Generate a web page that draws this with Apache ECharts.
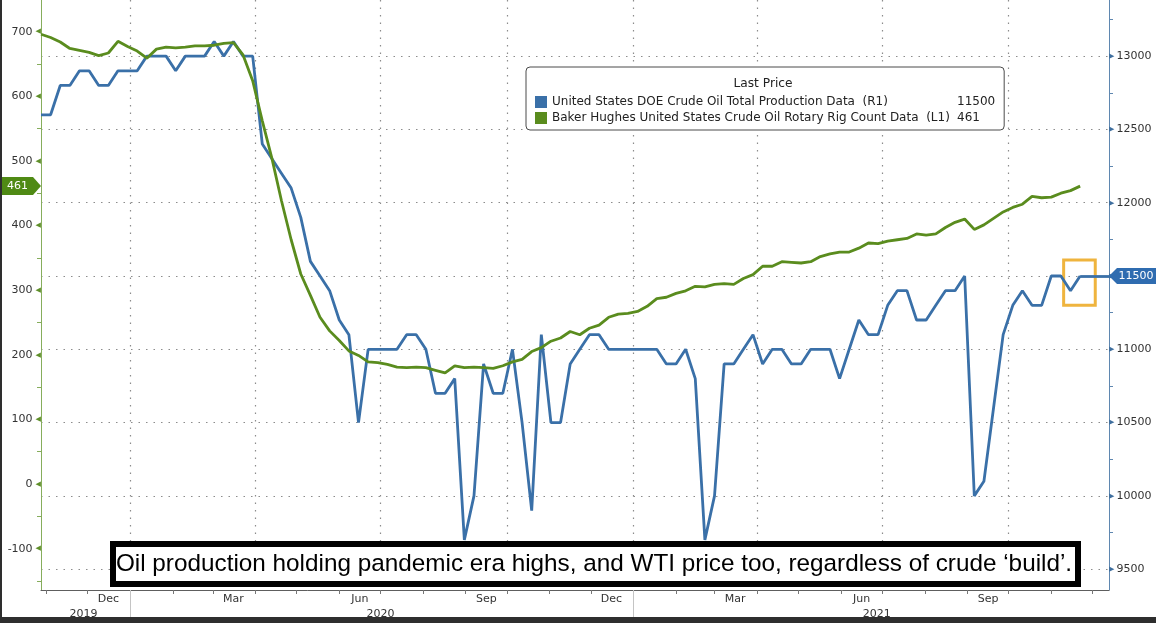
<!DOCTYPE html>
<html>
<head>
<meta charset="utf-8">
<title>US crude oil production vs rig count</title>
<script src="https://cdn.jsdelivr.net/npm/echarts@6/dist/echarts.min.js"></script>
<style>
    html, body { margin: 0; padding: 0; background: #fff; }
    #wrap { position: relative; width: 1156px; height: 623px; overflow: hidden; }
    #main { width: 1156px; height: 623px; }
    .edge { position: absolute; background: #2e2e2e; }
</style>
</head>
<body>
<div id="wrap">
    <div id="main"></div>
    <div class="edge" style="left:0;top:0;width:2px;height:623px"></div>
    <div class="edge" style="left:0;bottom:0;width:1156px;height:6px"></div>
</div>
<script>
// weekly observations
const weeks = [
    '2019-10-28', '2019-11-04', '2019-11-11', '2019-11-18', '2019-11-25', '2019-12-02', '2019-12-09', '2019-12-16', '2019-12-23', '2019-12-30',
    '2020-01-06', '2020-01-13', '2020-01-20', '2020-01-27', '2020-02-03', '2020-02-10', '2020-02-17', '2020-02-24', '2020-03-02', '2020-03-09',
    '2020-03-16', '2020-03-23', '2020-03-30', '2020-04-06', '2020-04-13', '2020-04-20', '2020-04-27', '2020-05-04', '2020-05-11', '2020-05-18',
    '2020-05-25', '2020-06-01', '2020-06-08', '2020-06-15', '2020-06-22', '2020-06-29', '2020-07-06', '2020-07-13', '2020-07-20', '2020-07-27',
    '2020-08-03', '2020-08-10', '2020-08-17', '2020-08-24', '2020-08-31', '2020-09-07', '2020-09-14', '2020-09-21', '2020-09-28', '2020-10-05',
    '2020-10-12', '2020-10-19', '2020-10-26', '2020-11-02', '2020-11-09', '2020-11-16', '2020-11-23', '2020-11-30', '2020-12-07', '2020-12-14',
    '2020-12-21', '2020-12-28', '2021-01-04', '2021-01-11', '2021-01-18', '2021-01-25', '2021-02-01', '2021-02-08', '2021-02-15', '2021-02-22',
    '2021-03-01', '2021-03-08', '2021-03-15', '2021-03-22', '2021-03-29', '2021-04-05', '2021-04-12', '2021-04-19', '2021-04-26', '2021-05-03',
    '2021-05-10', '2021-05-17', '2021-05-24', '2021-05-31', '2021-06-07', '2021-06-14', '2021-06-21', '2021-06-28', '2021-07-05', '2021-07-12',
    '2021-07-19', '2021-07-26', '2021-08-02', '2021-08-09', '2021-08-16', '2021-08-23', '2021-08-30', '2021-09-06', '2021-09-13', '2021-09-20',
    '2021-09-27', '2021-10-04', '2021-10-11', '2021-10-18', '2021-10-25', '2021-11-01', '2021-11-08', '2021-11-15', '2021-11-22'
];

// DOE crude production, thousand b/d (right axis)
const production = [
    12600, 12600, 12800, 12800, 12900, 12900, 12800, 12800, 12900, 12900,
    12900, 13000, 13000, 13000, 12900, 13000, 13000, 13000, 13100, 13000,
    13100, 13000, 13000, 12400, 12300, 12200, 12100, 11900, 11600, 11500,
    11400, 11200, 11100, 10500, 11000, 11000, 11000, 11000, 11100, 11100,
    11000, 10700, 10700, 10800, 9700, 10000, 10900, 10700, 10700, 11000,
    10500, 9900, 11100, 10500, 10500, 10900, 11000, 11100, 11100, 11000,
    11000, 11000, 11000, 11000, 11000, 10900, 10900, 11000, 10800, 9700,
    10000, 10900, 10900, 11000, 11100, 10900, 11000, 11000, 10900, 10900,
    11000, 11000, 11000, 10800, 11000, 11200, 11100, 11100, 11300, 11400,
    11400, 11200, 11200, 11300, 11400, 11400, 11500, 10000, 10100, 10600,
    11100, 11300, 11400, 11300, 11300, 11500, 11500, 11400, 11500
];

// Baker Hughes oil rig count (left axis)
const rigCount = [
    696, 691, 684, 674, 671, 668, 663, 667, 685, 677,
    670, 659, 673, 676, 675, 676, 678, 678, 679, 682,
    683, 664, 624, 562, 504, 438, 378, 325, 292, 258,
    237, 222, 206, 199, 189, 188, 185, 181, 180, 181,
    180, 176, 172, 183, 180, 181, 180, 179, 183, 189,
    193, 205, 211, 221, 226, 236, 231, 241, 246, 258,
    263, 264, 267, 275, 287, 289, 295, 299, 306, 305,
    309, 310, 309, 318, 324, 337, 337, 344, 343, 342,
    344, 352, 356, 359, 359, 365, 373, 372, 376, 378,
    380, 387, 385, 387, 397, 405, 410, 394, 401, 411,
    421, 428, 433, 445, 443, 444, 450, 454, 461
];

const prodName = 'United States DOE Crude Oil Total Production Data  (R1)';
const rigName = 'Baker Hughes United States Crude Oil Rotary Rig Count Data  (L1)';

const axisStart = '2019-10-28';
const axisEnd = '2021-12-13';
const monthTicks = [
    '2019-11-01', '2019-12-01', '2020-01-01', '2020-02-01', '2020-03-01', '2020-04-01', '2020-05-01', '2020-06-01',
    '2020-07-01', '2020-08-01', '2020-09-01', '2020-10-01', '2020-11-01', '2020-12-01', '2021-01-01', '2021-02-01',
    '2021-03-01', '2021-04-01', '2021-05-01', '2021-06-01', '2021-07-01', '2021-08-01', '2021-09-01', '2021-10-01',
    '2021-11-01', '2021-12-01'
];
const quarterLines = ['2020-01-01', '2020-04-01', '2020-07-01', '2020-10-01', '2021-01-01', '2021-04-01', '2021-07-01', '2021-10-01'];
const monthLabels = ['2019-12-16', '2020-03-16', '2020-06-16', '2020-09-16', '2020-12-16', '2021-03-16', '2021-06-16', '2021-09-16'];
const yearBreaks = ['2020-01-01', '2021-01-01'];
const yearLabels = ['2019-11-28', '2020-07-01', '2021-06-27'];
const monthNames = ['Jan', 'Feb', 'Mar', 'Apr', 'May', 'Jun', 'Jul', 'Aug', 'Sep', 'Oct', 'Nov', 'Dec'];

const leftMin = -164, leftMax = 749;
const leftLabels = [-100, 0, 100, 200, 300, 400, 500, 600, 700];
const leftMinor = [-150, -50, 50, 150, 250, 350, 450, 550, 650];
const rightMin = 9358, rightMax = 13383;
const rightLabels = [9500, 10000, 10500, 11000, 11500, 12000, 12500, 13000];
const rightMinor = [9750, 10250, 10750, 11250, 11750, 12250, 12750, 13250];

// yellow box around the latest dip
const highlightBox = [['2021-11-10', 11610], ['2021-12-03', 11300]];

const caption = 'Oil production holding pandemic era highs, and WTI price too, regardless of crude \u2018build\u2019.';

const BLUE = '#3a70a8';
const BLUE_TAG = '#2f6cb0';
const GREEN = '#5a8c1e';
const GREEN_TAG = '#4f8a14';
const FONT = 'DejaVu Sans';

document.addEventListener('DOMContentLoaded', init);

function init() {
    drawChart();
}

// dates go on a numeric axis as UTC milliseconds
function ts(day) {
    return Date.parse(day + 'T00:00:00Z');
}

function drawChart() {
    const last = weeks.length - 1;
    const lastValues = {};
    lastValues[prodName] = production[last];
    lastValues[rigName] = rigCount[last];

    const xMin = ts(axisStart);
    const xMax = ts(axisEnd);
    const dotted = { color: '#8c8c8c', width: 1.2, type: [1.5, 6] };

    let myChart = echarts.init(document.getElementById('main'));

    let option = {
        animation: false,
        backgroundColor: '#fff',
        grid: { left: 41, right: 47, top: 0, bottom: 33, containLabel: false },
        legend: {
            left: 526,
            top: 67,
            orient: 'vertical',
            selectedMode: false,
            icon: 'rect',
            itemWidth: 12,
            itemHeight: 12,
            itemGap: 4,
            padding: [29, 9, 6, 9],
            backgroundColor: '#fff',
            borderColor: '#4a4a4a',
            borderWidth: 1,
            borderRadius: 4,
            data: [prodName, rigName],
            formatter: name => `{n|${name}}{v|${lastValues[name]}}`,
            textStyle: {
                fontFamily: FONT,
                fontSize: 12,
                color: '#222',
                rich: {
                    n: { width: 405, fontFamily: FONT, fontSize: 12, color: '#222' },
                    v: { fontFamily: FONT, fontSize: 12, color: '#222' }
                }
            }
        },
        graphic: [
            {
                type: 'text',
                x: 763,
                y: 84,
                z: 50,
                style: {
                    text: 'Last Price',
                    fontFamily: FONT,
                    fontSize: 12.2,
                    fill: '#222',
                    align: 'center',
                    verticalAlign: 'middle'
                }
            },
            {
                type: 'rect',
                shape: { x: 113, y: 544, width: 965, height: 40 },
                style: { fill: '#fff', stroke: '#000', lineWidth: 6 },
                z: 100
            },
            {
                type: 'text',
                x: 594,
                y: 564,
                style: {
                    text: caption,
                    fontFamily: 'Liberation Sans',
                    fontSize: 24.3,
                    fill: '#000',
                    align: 'center',
                    verticalAlign: 'middle'
                },
                z: 101
            }
        ],
        xAxis: [
            {
                // month ticks and labels
                type: 'value',
                min: xMin,
                max: xMax,
                position: 'bottom',
                axisLine: { show: true, onZero: false, lineStyle: { color: '#5e5e5e', width: 1 } },
                axisTick: { show: true, customValues: monthTicks.map(ts), length: 4, lineStyle: { color: '#777' } },
                axisLabel: {
                    customValues: monthLabels.map(ts),
                    margin: 4,
                    fontFamily: FONT,
                    fontSize: 11,
                    color: '#333',
                    formatter: value => monthNames[new Date(value).getUTCMonth()]
                },
                splitLine: { show: false }
            },
            {
                // quarterly vertical grid lines
                type: 'value',
                min: xMin,
                max: xMax,
                position: 'bottom',
                axisLine: { show: false, onZero: false },
                axisTick: { show: false, customValues: quarterLines.map(ts) },
                axisLabel: { show: false },
                splitLine: { show: true, lineStyle: dotted }
            },
            {
                // year row
                type: 'value',
                min: xMin,
                max: xMax,
                position: 'bottom',
                axisLine: { show: false, onZero: false },
                axisTick: { show: true, customValues: yearBreaks.map(ts), length: 33, lineStyle: { color: '#c4c4c4' } },
                axisLabel: {
                    customValues: yearLabels.map(ts),
                    margin: 19,
                    fontFamily: FONT,
                    fontSize: 11,
                    color: '#333',
                    formatter: value => String(new Date(value).getUTCFullYear())
                },
                splitLine: { show: false }
            }
        ],
        yAxis: [
            {
                // rig count, left
                type: 'value',
                position: 'left',
                min: leftMin,
                max: leftMax,
                axisLine: { show: true, onZero: false, lineStyle: { color: '#86ad5c', width: 1 } },
                axisTick: { show: true, customValues: leftMinor, length: 4, lineStyle: { color: '#86ad5c' } },
                axisLabel: {
                    customValues: leftLabels,
                    margin: 0,
                    formatter: v => `{n|${v}}{t|\u25C0}`,
                    rich: {
                        n: { fontFamily: FONT, fontSize: 11, color: '#333', padding: [0, 3, 0, 0] },
                        t: { fontFamily: FONT, fontSize: 7, color: '#5f8f2a' }
                    }
                },
                splitLine: { show: false }
            },
            {
                // production, right
                type: 'value',
                position: 'right',
                min: rightMin,
                max: rightMax,
                axisLine: { show: true, onZero: false, lineStyle: { color: '#5f87b0', width: 1 } },
                axisTick: { show: true, customValues: rightMinor, length: 4, lineStyle: { color: '#5f87b0' } },
                axisLabel: {
                    customValues: rightLabels,
                    margin: 0,
                    formatter: v => `{t|\u25B6}{n|${v}}`,
                    rich: {
                        n: { fontFamily: FONT, fontSize: 11, color: '#333', padding: [0, 0, 0, 2] },
                        t: { fontFamily: FONT, fontSize: 7, color: '#3f6f9f' }
                    }
                },
                splitLine: { show: false }
            },
            {
                // horizontal grid lines at the right-hand majors
                type: 'value',
                position: 'right',
                min: rightMin,
                max: rightMax,
                axisLine: { show: false, onZero: false },
                axisTick: { show: false, customValues: rightLabels },
                axisLabel: { show: false },
                splitLine: { show: true, lineStyle: dotted }
            }
        ],
        series: [
            {
                name: prodName,
                type: 'line',
                xAxisIndex: 0,
                yAxisIndex: 1,
                data: weeks.map((w, i) => [ts(w), production[i]]),
                symbol: 'none',
                lineStyle: { color: BLUE, width: 2.8 },
                itemStyle: { color: BLUE },
                z: 3,
                markLine: {
                    silent: true,
                    symbol: ['none', 'none'],
                    label: { show: false },
                    lineStyle: { color: BLUE, width: 2.8, type: 'solid' },
                    data: [[{ coord: [ts(weeks[last]), production[last]] }, { coord: [xMax, production[last]] }]]
                },
                markPoint: {
                    silent: true,
                    symbol: 'path://M0,8L8,0L48,0L48,16L8,16Z',
                    symbolSize: [48, 16],
                    symbolOffset: [24, 0],
                    symbolKeepAspect: false,
                    itemStyle: { color: BLUE_TAG },
                    label: { show: true, color: '#fff', fontFamily: FONT, fontSize: 11, offset: [3, 0], formatter: '{c}' },
                    data: [{ coord: [xMax, production[last]], value: production[last] }]
                },
                markArea: {
                    silent: true,
                    itemStyle: { color: 'rgba(0,0,0,0)', borderColor: '#efb43e', borderWidth: 3 },
                    data: [[
                        { coord: [ts(highlightBox[0][0]), highlightBox[0][1]] },
                        { coord: [ts(highlightBox[1][0]), highlightBox[1][1]] }
                    ]]
                }
            },
            {
                name: rigName,
                type: 'line',
                xAxisIndex: 0,
                yAxisIndex: 0,
                data: weeks.map((w, i) => [ts(w), rigCount[i]]),
                symbol: 'none',
                lineStyle: { color: GREEN, width: 2.8 },
                itemStyle: { color: GREEN },
                z: 4,
                markPoint: {
                    silent: true,
                    symbol: 'path://M0,0L33,0L41,9L33,18L0,18Z',
                    symbolSize: [41, 18],
                    symbolOffset: [-20.5, 0],
                    symbolKeepAspect: false,
                    itemStyle: { color: GREEN_TAG },
                    label: { show: true, color: '#fff', fontFamily: FONT, fontSize: 11, offset: [-3, 0], formatter: '{c}' },
                    data: [{ coord: [xMin, rigCount[last]], value: rigCount[last] }]
                }
            }
        ]
    };

    myChart.setOption(option);
}
</script>
</body>
</html>
